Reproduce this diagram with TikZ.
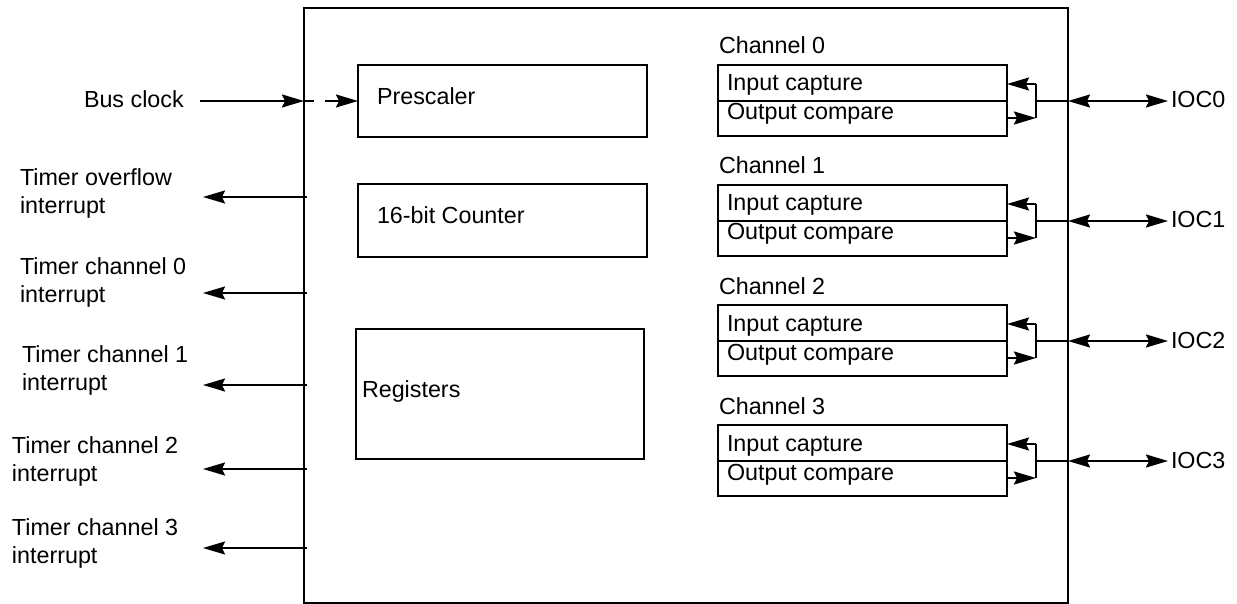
\documentclass[tikz,border=0pt]{standalone}
\usepackage{fontspec}
\setmainfont{Liberation Sans}
\usetikzlibrary{arrows.meta,calc}
\begin{document}
\begin{tikzpicture}[x=1pt,y=-1pt,
  box/.style={draw, line width=2pt, inner sep=0pt, outer sep=0pt, anchor=north west},
  txt/.style={inner sep=0pt, outer sep=0pt, anchor=base west, font=\fontsize{23.3}{28}\selectfont, align=left},
  ln/.style={line width=2pt},
  arr/.style={line width=2pt, -{Stealth[length=22pt,width=13pt,inset=3pt]}},
  dbl/.style={line width=2pt, {Stealth[length=22pt,width=13pt,inset=3pt]}-{Stealth[length=22pt,width=13pt,inset=3pt]}}]
\useasboundingbox (0,0) rectangle (1237,604);
% main block
\node[box, minimum width=764pt, minimum height=594.5pt] (main) at (304,8) {};
% inner blocks
\node[box, minimum width=289pt, minimum height=72pt] (presc) at (358,65) {};
\node[txt] (presct) at (377,105) {Prescaler};
\node[box, minimum width=289pt, minimum height=73pt] (cnt) at (358,184) {};
\node[txt] (cntt) at (377,224) {16-bit Counter};
\node[box, minimum width=288pt, minimum height=130pt] (reg) at (356,329) {};
\node[txt] (regt) at (362,397) {Registers};
% bus clock
\node[txt] (bus) at (84,108) {Bus clock};
\coordinate (busy) at (200,101);
\draw[arr] (busy) -- (busy -| main.west);
\draw[line width=2pt, dash pattern=on 10pt off 11pt on 60pt, -{Stealth[length=22pt,width=13pt,inset=3pt]}] (busy -| main.west) -- (busy -| presc.west);
% interrupts
\node[txt] (tov) at (20,214) {Timer overflow\\interrupt};
\node[txt] (tc0) at (20,302) {Timer channel 0\\interrupt};
\node[txt] (tc1) at (22,390) {Timer channel 1\\interrupt};
\node[txt] (tc2) at (12,481) {Timer channel 2\\interrupt};
\node[txt] (tc3) at (12,563) {Timer channel 3\\interrupt};
\coordinate (iov) at (203,197);
\coordinate (ic0) at (203,293);
\coordinate (ic1) at (203,385);
\coordinate (ic2) at (203,469);
\coordinate (ic3) at (203,548);
\foreach \c in {iov,ic0,ic1,ic2,ic3}{
  \draw[arr] ($(\c -| main.west)+(3,0)$) -- (\c);
}
% channels
\foreach \i in {0,1,2,3}{
  \pgfmathsetmacro\yy{65+120*\i}
  \node[box, minimum width=289pt, minimum height=36pt] (in\i) at (718,\yy) {};
  \node[box, minimum width=289pt, minimum height=35pt] (out\i) at (in\i.south west) {};
  \node[txt] (chl\i) at ($(in\i.north west)+(1,-11)$) {Channel \i};
  \node[txt] (ict\i) at ($(in\i.north west)+(9,26)$) {Input capture};
  \node[txt] (oct\i) at ($(out\i.north west)+(9,19)$) {Output compare};
  \coordinate (j\i) at ($(in\i.south east)+(29,0)$);
  \coordinate (ja\i) at ($(j\i)+(0,-17)$);
  \coordinate (jb\i) at ($(j\i)+(0,17)$);
  \draw[arr] (ja\i) -- (ja\i -| in\i.east);
  \draw[arr] (jb\i -| out\i.east) -- (jb\i);
  \draw[ln] (ja\i) -- (jb\i);
  \draw[ln] (j\i) -- (j\i -| main.east);
  \node[txt] (ioc\i) at ($(j\i -| main.east)+(103,7)$) {IOC\i};
  \draw[dbl] (j\i -| main.east) -- ($(ioc\i.base west)+(-3,-7)$);
}
\end{tikzpicture}
\end{document}
